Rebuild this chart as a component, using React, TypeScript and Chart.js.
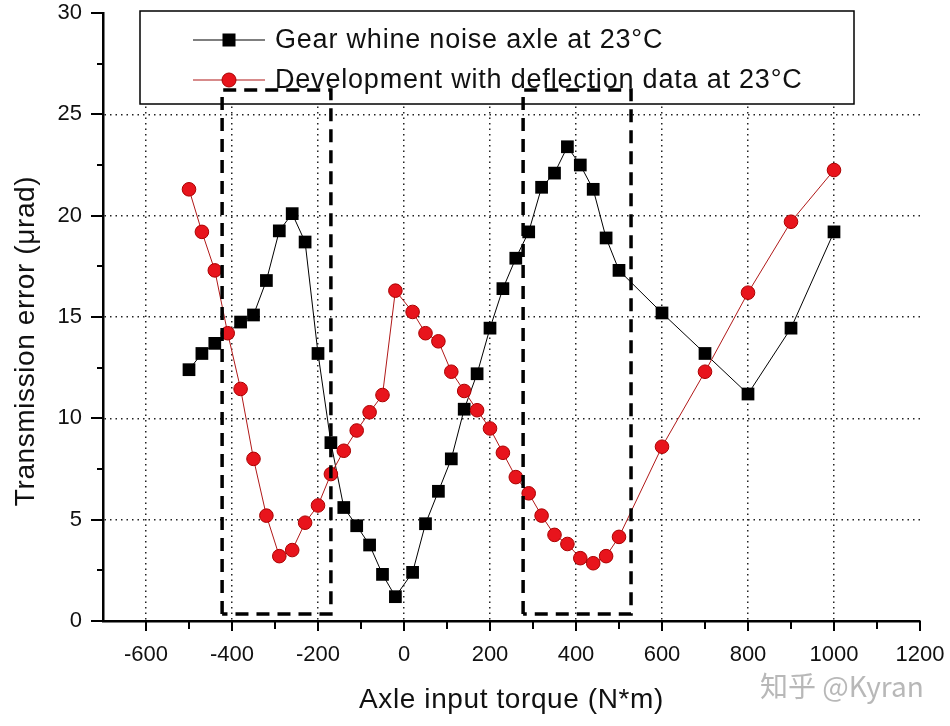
import React, { useEffect, useRef } from 'react'
import { Chart, registerables } from 'chart.js'

Chart.register(...registerables)

// Gear whine noise axle at 23°C (black squares)
const gearX = [-500, -470, -440, -380, -350, -320, -290, -260, -230, -200, -170, -140, -110, -80, -50, -20, 20, 50, 80, 110, 140, 170, 200, 230, 260, 290, 320, 350, 380, 410, 440, 470, 500, 600, 700, 800, 900, 1000]
const gearY = [12.4, 13.2, 13.7, 14.75, 15.1, 16.8, 19.25, 20.1, 18.7, 13.2, 8.8, 5.6, 4.7, 3.75, 2.3, 1.2, 2.4, 4.8, 6.4, 8.0, 10.45, 12.2, 14.45, 16.4, 17.9, 19.2, 21.4, 22.1, 23.4, 22.5, 21.3, 18.9, 17.3, 15.2, 13.2, 11.2, 14.45, 19.2]

// Development with deflection data at 23°C (red circles)
const devX = [-500, -470, -440, -410, -380, -350, -320, -290, -260, -230, -200, -170, -140, -110, -80, -50, -20, 20, 50, 80, 110, 140, 170, 200, 230, 260, 290, 320, 350, 380, 410, 440, 470, 500, 600, 700, 800, 900, 1000]
const devY = [21.3, 19.2, 17.3, 14.2, 11.45, 8.0, 5.2, 3.2, 3.5, 4.85, 5.7, 7.25, 8.4, 9.4, 10.3, 11.15, 16.3, 15.25, 14.2, 13.8, 12.3, 11.35, 10.4, 9.5, 8.3, 7.1, 6.3, 5.2, 4.25, 3.8, 3.1, 2.85, 3.2, 4.15, 8.6, 12.3, 16.2, 19.7, 22.25]

const legendLabels = ['Gear whine noise axle at 23\u00b0C', 'Development with deflection data at 23\u00b0C']

// axes
const xMajorTicks = [-600, -400, -200, 0, 200, 400, 600, 800, 1000, 1200]
const xMinorTicks = [-500, -300, -100, 100, 300, 500, 700, 900, 1100]
const yMajorTicks = [0, 5, 10, 15, 20, 25, 30]
const yMinorTicks = [2.5, 7.5, 12.5, 17.5, 22.5, 27.5]
const xGridValues = [-600, -400, -200, 0, 200, 400, 600, 800, 1000]
const yGridValues = [5, 10, 15, 20, 25]

// dashed highlight boxes
const boxLeftX = [-423, -170]
const boxRightX = [277, 528]
const boxY = [0.35, 26.2]

const FONT = '"Liberation Sans", Arial, sans-serif'

const boxPoints = (xs: number[]) => [
    { x: xs[0], y: boxY[0] },
    { x: xs[0], y: boxY[1] },
    { x: xs[1], y: boxY[1] },
    { x: xs[1], y: boxY[0] },
    { x: xs[0], y: boxY[0] },
]

const legendPlugin = {
    id: 'insideLegend',
    beforeDatasetsDraw(chart: any) {
        const ctx = chart.ctx
        ctx.save()
        ctx.fillStyle = '#fff'
        ctx.fillRect(140, 11, 714, 93)
        ctx.strokeStyle = '#000'
        ctx.lineWidth = 1.5
        ctx.strokeRect(140, 11, 714, 93)
        const rows = [40, 80]
        rows.forEach((y, i) => {
            ctx.beginPath()
            ctx.strokeStyle = i === 0 ? '#000' : '#b01818'
            ctx.lineWidth = 1.2
            ctx.moveTo(193, y)
            ctx.lineTo(265, y)
            ctx.stroke()
            if (i === 0) {
                ctx.fillStyle = '#000'
                ctx.fillRect(229 - 6.5, y - 6.5, 13, 13)
            } else {
                ctx.beginPath()
                ctx.arc(229, y, 7, 0, Math.PI * 2)
                ctx.fillStyle = '#e8141c'
                ctx.fill()
                ctx.strokeStyle = '#a00'
                ctx.lineWidth = 1
                ctx.stroke()
            }
            ctx.fillStyle = '#111'
            ctx.font = `27px ${FONT}`
            ctx.textAlign = 'left'
            ctx.textBaseline = 'middle'
            ;(ctx as any).letterSpacing = '0.8px'
            ctx.fillText(legendLabels[i], 275, y + 1)
            ;(ctx as any).letterSpacing = '0px'
        })
        ctx.restore()
    },
}

const decorPlugin = {
    id: 'decor',
    afterDraw(chart: any) {
        const ctx = chart.ctx
        const xs = chart.scales.x
        const ys = chart.scales.y
        const area = chart.chartArea
        ctx.save()
        ctx.strokeStyle = '#000'
        ctx.lineWidth = 2
        ctx.setLineDash([])
        const xTick = (v: number, len: number) => {
            const px = Math.round(xs.getPixelForValue(v))
            ctx.beginPath()
            ctx.moveTo(px, area.bottom)
            ctx.lineTo(px, area.bottom + len)
            ctx.stroke()
        }
        const yTick = (v: number, len: number) => {
            const py = Math.round(ys.getPixelForValue(v))
            ctx.beginPath()
            ctx.moveTo(area.left, py)
            ctx.lineTo(area.left - len, py)
            ctx.stroke()
        }
        xMajorTicks.forEach(v => xTick(v, 10))
        xMinorTicks.forEach(v => xTick(v, 8))
        yMajorTicks.forEach(v => yTick(v, 12))
        yMinorTicks.forEach(v => yTick(v, 6))

        // axis titles
        ctx.fillStyle = '#111'
        ctx.font = `28px ${FONT}`
        ctx.textAlign = 'center'
        ctx.textBaseline = 'alphabetic'
        ;(ctx as any).letterSpacing = '0.6px'
        ctx.fillText('Axle input torque (N*m)', (area.left + area.right) / 2, 708)
        ctx.save()
        ctx.translate(34, 341)
        ctx.rotate(-Math.PI / 2)
        ctx.fillText('Transmission error (\u03bcrad)', 0, 0)
        ctx.restore()
        ;(ctx as any).letterSpacing = '0px'

        // watermark
        ctx.fillStyle = 'rgba(160,160,160,0.75)'
        ctx.font = `28px "Noto Sans CJK SC", ${FONT}`
        ctx.textAlign = 'left'
        ctx.textBaseline = 'middle'
        ctx.fillText('\u77e5\u4e4e @Kyran', 760, 686)
        ctx.restore()
    },
}

export default function App() {
    const canvasReference = useRef<HTMLCanvasElement>(null)

    useEffect(() => {
        if (!canvasReference.current) return
        const myChart = new Chart(canvasReference.current, {
            type: 'scatter',
            data: {
                datasets: [
                    {
                        label: 'box left',
                        data: boxPoints(boxLeftX),
                        showLine: true,
                        borderColor: '#000',
                        borderWidth: 3.5,
                        borderDash: [13, 8],
                        pointRadius: 0,
                        order: -1,
                    },
                    {
                        label: 'box right',
                        data: boxPoints(boxRightX),
                        showLine: true,
                        borderColor: '#000',
                        borderWidth: 3.5,
                        borderDash: [13, 8],
                        pointRadius: 0,
                        order: -1,
                    },
                    {
                        label: legendLabels[1],
                        data: devX.map((x, i) => ({ x, y: devY[i] })),
                        showLine: true,
                        borderColor: '#b01818',
                        borderWidth: 1,
                        backgroundColor: '#e8141c',
                        pointBackgroundColor: '#e8141c',
                        pointBorderColor: '#a00',
                        pointBorderWidth: 1,
                        pointStyle: 'circle',
                        pointRadius: 6.8,
                        order: 0,
                    },
                    {
                        label: legendLabels[0],
                        data: gearX.map((x, i) => ({ x, y: gearY[i] })),
                        showLine: true,
                        borderColor: '#000',
                        borderWidth: 1,
                        backgroundColor: '#000',
                        pointBackgroundColor: '#000',
                        pointBorderColor: '#000',
                        pointBorderWidth: 0,
                        pointStyle: 'rect',
                        pointRadius: 9,
                        order: 1,
                    },
                ],
            },
            options: {
                responsive: false,
                animation: false,
                layout: { padding: { top: 13, right: 30, left: 0, bottom: 0 } },
                plugins: {
                    legend: { display: false },
                    tooltip: { enabled: false },
                },
                scales: {
                    x: {
                        type: 'linear',
                        min: -700,
                        max: 1200,
                        afterBuildTicks: (scale: any) => {
                            scale.ticks = xMajorTicks.map(value => ({ value }))
                        },
                        afterFit: (scale: any) => {
                            scale.height = 105
                            scale.paddingLeft = 0
                            scale.paddingRight = 0
                        },
                        ticks: {
                            color: '#111',
                            font: { family: FONT, size: 22 },
                            padding: 21,
                            maxRotation: 0,
                            autoSkip: false,
                            callback: (v: any) => String(v),
                        },
                        grid: {
                            drawTicks: false,
                            lineWidth: 1.5,
                            color: (c: any) => (xGridValues.includes(c.tick?.value) ? '#222' : 'rgba(0,0,0,0)'),
                        },
                        border: { display: true, color: '#000', width: 2.5, dash: [1.5, 4] },
                    },
                    y: {
                        type: 'linear',
                        min: 0,
                        max: 30,
                        afterBuildTicks: (scale: any) => {
                            scale.ticks = yMajorTicks.map(value => ({ value }))
                        },
                        afterFit: (scale: any) => {
                            scale.width = 103
                            scale.paddingTop = 0
                            scale.paddingBottom = 0
                        },
                        ticks: {
                            color: '#111',
                            font: { family: FONT, size: 22 },
                            padding: 21,
                        },
                        grid: {
                            drawTicks: false,
                            lineWidth: 1.5,
                            color: (c: any) => (yGridValues.includes(c.tick?.value) ? '#222' : 'rgba(0,0,0,0)'),
                        },
                        border: { display: true, color: '#000', width: 2.5, dash: [1.5, 4] },
                    },
                },
            },
            plugins: [legendPlugin, decorPlugin],
        })

        return () => {
            myChart.destroy()
        }
    }, [])

    return <div style={{ position: 'fixed', top: 0, left: 0, width: 950, height: 726, background: '#fff' }}>
        <canvas ref={canvasReference} width={950} height={726}></canvas>
    </div>
}
